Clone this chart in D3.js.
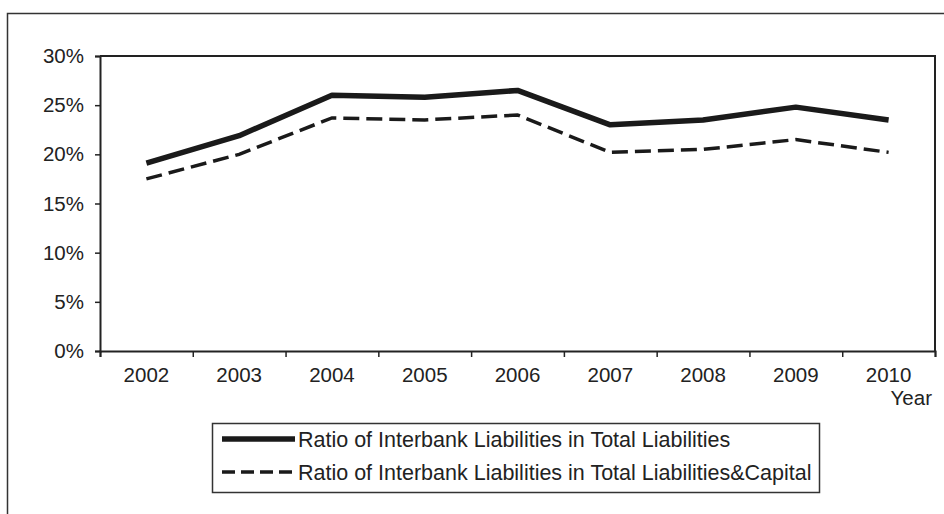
<!DOCTYPE html>
<html>
<head>
<meta charset="utf-8">
<script src="https://cdn.jsdelivr.net/npm/d3@7"></script>
<style>
  html, body { margin: 0; padding: 0; background: #fff; }
  svg text { font-family: "Liberation Sans", Arial, sans-serif; fill: #222; }
</style>
</head>
<body>
<div id="graph"></div>
<script>
// data
var years = ["2002", "2003", "2004", "2005", "2006", "2007", "2008", "2009", "2010"];
var ratioLiabilities = [0.191, 0.219, 0.260, 0.258, 0.265, 0.230, 0.235, 0.248, 0.235];
var ratioLiabCapital = [0.175, 0.200, 0.237, 0.235, 0.240, 0.202, 0.205, 0.215, 0.202];
var yTicks = [0, 0.05, 0.10, 0.15, 0.20, 0.25, 0.30];
var seriesNames = [
  "Ratio of Interbank Liabilities in Total Liabilities",
  "Ratio of Interbank Liabilities in Total Liabilities&Capital"
];

var W = 944, H = 514;
var plot = {left: 100, right: 935, top: 56, bottom: 351};
var ink = "#222";

var svg = d3.select("#graph")
  .append("svg")
    .attr("width", W)
    .attr("height", H);

// outer frame (runs off the right and bottom edge)
svg.append("rect")
  .attr("x", 7.5).attr("y", 13.5)
  .attr("width", 1000).attr("height", 600)
  .attr("fill", "none")
  .attr("stroke", "#333")
  .attr("stroke-width", 1.5);

// scales
var x = d3.scaleBand()
  .domain(years)
  .range([plot.left, plot.right]);
var xEdge = d3.scaleLinear()
  .domain([0, years.length])
  .range([plot.left, plot.right]);
var y = d3.scaleLinear()
  .domain([0, 0.30])
  .range([plot.bottom, plot.top]);

// plot box (top and right)
svg.append("path")
  .attr("d", "M" + plot.left + "," + plot.top + "H" + plot.right + "V" + plot.bottom)
  .attr("fill", "none")
  .attr("stroke", ink)
  .attr("stroke-width", 2);

// y axis
var yAxis = svg.append("g")
  .attr("transform", "translate(" + plot.left + ",0)")
  .call(d3.axisLeft(y).tickValues(yTicks).tickFormat(d3.format(".0%")).tickSize(5).tickPadding(11));
yAxis.select(".domain").attr("stroke", ink).attr("stroke-width", 2);
yAxis.selectAll(".tick line").attr("stroke", ink).attr("stroke-width", 1.5);
yAxis.selectAll("text").attr("font-size", 20.5).attr("fill", ink);

// x axis: ticks between categories, labels centered in each band
var xTicks = svg.append("g")
  .attr("transform", "translate(0," + plot.bottom + ")")
  .call(d3.axisBottom(xEdge).tickValues(d3.range(0, years.length + 1)).tickFormat("").tickSize(6));
xTicks.select(".domain").attr("stroke", ink).attr("stroke-width", 2);
xTicks.selectAll(".tick line").attr("stroke", ink).attr("stroke-width", 1.5);

var xLabels = svg.append("g")
  .attr("transform", "translate(0," + plot.bottom + ")")
  .call(d3.axisBottom(x).tickSize(0).tickPadding(16));
xLabels.select(".domain").remove();
xLabels.selectAll("text").attr("font-size", 20.5).attr("fill", ink);

svg.append("text")
  .attr("x", 932).attr("y", 405)
  .attr("text-anchor", "end")
  .attr("font-size", 20.5)
  .text("Year");

// lines
var line = d3.line()
  .x(function(d, i) { return x(years[i]) + x.bandwidth() / 2; })
  .y(function(d) { return y(d); });

svg.append("path")
  .datum(ratioLiabilities)
  .attr("fill", "none")
  .attr("stroke", "#1a1a1a")
  .attr("stroke-width", 5.5)
  .attr("stroke-linejoin", "round")
  .attr("d", line);

svg.append("path")
  .datum(ratioLiabCapital)
  .attr("fill", "none")
  .attr("stroke", "#1a1a1a")
  .attr("stroke-width", 3.5)
  .attr("stroke-dasharray", "16,7")
  .attr("d", line);

// legend
var legend = svg.append("g");
legend.append("rect")
  .attr("x", 212.5).attr("y", 423.5)
  .attr("width", 607).attr("height", 69)
  .attr("fill", "#fff")
  .attr("stroke", "#333")
  .attr("stroke-width", 1.5);

var styles = [
  {w: 5.5, dash: null},
  {w: 3.5, dash: "13,6"}
];
seriesNames.forEach(function(name, i) {
  var cy = 439 + i * 33;
  legend.append("line")
    .attr("x1", 222).attr("x2", 295)
    .attr("y1", cy).attr("y2", cy)
    .attr("stroke", "#1a1a1a")
    .attr("stroke-width", styles[i].w)
    .attr("stroke-dasharray", styles[i].dash);
  legend.append("text")
    .attr("x", 298).attr("y", cy + 8)
    .attr("font-size", 21.5)
    .text(name);
});
</script>
</body>
</html>
